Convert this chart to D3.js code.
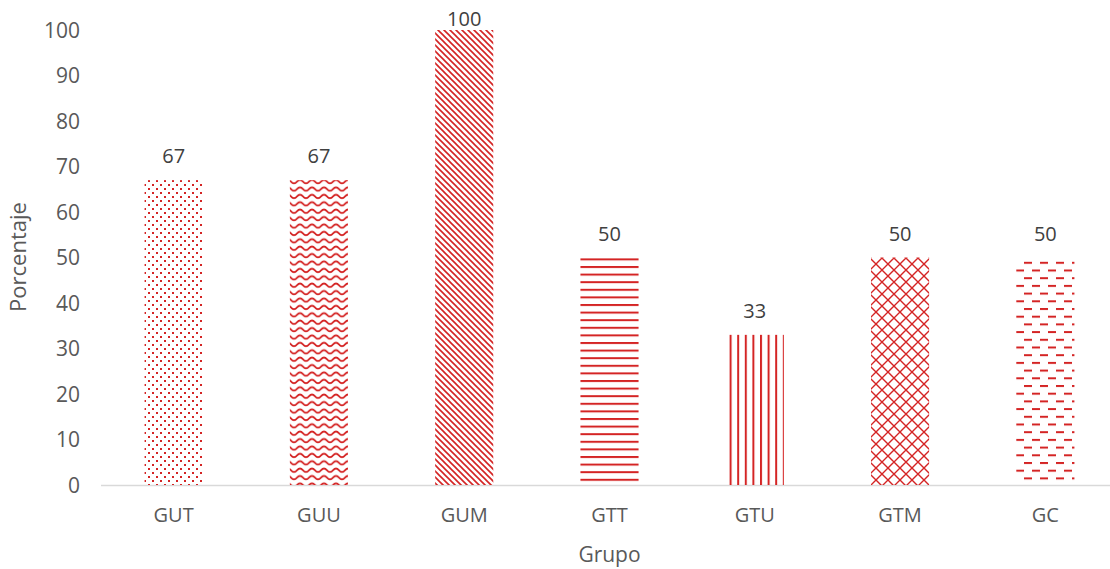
<!DOCTYPE html>
<html><head><meta charset="utf-8">
<script src="https://cdn.jsdelivr.net/npm/d3@7"></script>
<style>body{margin:0;background:#fff}svg{display:block}</style>
</head><body><svg id="c" width="1110" height="569"></svg>
<script>
const categories = ["GUT","GUU","GUM","GTT","GTU","GTM","GC"];
const values = [67, 67, 100, 50, 33, 50, 50];
const patterns = ["dots","waves","diag","hlines","vlines","cross","dashes"];
const yTicks = [0,10,20,30,40,50,60,70,80,90,100];
const xTitle = "Grupo", yTitle = "Porcentaje";

const svg = d3.select("#c");
const red = "#d42424";
const defs = svg.append("defs");
function pat(id, w, h){ return defs.append("pattern").attr("id", id).attr("patternUnits","userSpaceOnUse").attr("width", w).attr("height", h); }
let p = pat("dots", 8, 8);
p.append("rect").attr("x",0).attr("y",0).attr("width",2).attr("height",2).attr("fill",red);
p.append("rect").attr("x",4).attr("y",4).attr("width",2).attr("height",2).attr("fill",red);
p = pat("waves", 12, 7.4);
p.append("path").attr("d","M-3,4 Q0,0.5 3,4 T9,4 T15,4").attr("fill","none").attr("stroke",red).attr("stroke-width",1.8);
p = pat("diag", 6, 6);
p.append("path").attr("d","M-1,-1 L7,7 M-4,2 L1,7 M2,-4 L10,4 M5,-1 L7,1").attr("stroke",red).attr("stroke-width",1.6);
p = pat("hlines", 8, 7.6);
p.append("rect").attr("x",0).attr("y",0).attr("width",8).attr("height",2).attr("fill",red);
p = pat("vlines", 7.6, 8);
p.append("rect").attr("x",0).attr("y",0).attr("width",2).attr("height",8).attr("fill",red);
p = pat("cross", 12, 12);
p.append("path").attr("d","M0,0 L12,12 M12,0 L0,12 M-6,6 L0,0 M6,-6 L0,0").attr("stroke",red).attr("stroke-width",1.4).attr("fill","none");
p = pat("dashes", 16, 15.4);
p.append("rect").attr("x",0).attr("y",0).attr("width",8).attr("height",2).attr("fill",red);
p.append("rect").attr("x",8).attr("y",7.7).attr("width",8).attr("height",2).attr("fill",red);

const x = d3.scaleBand().domain(categories).range([101, 1118]).paddingInner(0.6).paddingOuter(0.3);
const y = d3.scaleLinear().domain([0, 100]).range([485, 30]);

svg.append("line").attr("x1",101).attr("x2",1110).attr("y1",y(0)+0.5).attr("y2",y(0)+0.5).attr("stroke","#d9d9d9").attr("stroke-width",1.3);

svg.selectAll("rect.bar").data(categories).enter().append("rect").attr("class","bar")
  .attr("x", d => x(d)).attr("width", x.bandwidth())
  .attr("y", (d,i) => y(values[i])).attr("height", (d,i) => y(0) - y(values[i]))
  .attr("fill", (d,i) => `url(#${patterns[i]})`);

const font = "'Open Sans', sans-serif";
const yAxis = d3.axisLeft(y).tickValues(yTicks).tickSize(0).tickPadding(0);
const ga = svg.append("g").attr("transform","translate(80,0)").call(yAxis);
ga.select(".domain").remove();
ga.selectAll("text").attr("font-family",font).attr("font-size",21).attr("fill","#595959").attr("dy","0.35em");
const xAxis = d3.axisBottom(x).tickSize(0).tickPadding(0);
const gx = svg.append("g").attr("transform","translate(0,508)").call(xAxis);
gx.select(".domain").remove();
gx.selectAll("text").attr("font-family",font).attr("font-size",20).attr("fill","#595959").attr("dy","0.71em");

svg.selectAll("text.lbl").data(categories).enter().append("text").attr("class","lbl")
  .attr("x", d => x(d) + x.bandwidth()/2).attr("y", (d,i) => Math.max(y(values[i]) - 17, 26))
  .attr("text-anchor","middle").attr("font-family",font).attr("font-size",20).attr("fill","#404040")
  .text((d,i) => values[i]);

svg.append("text").attr("x",609.5).attr("y",562).attr("text-anchor","middle").attr("font-family",font).attr("font-size",21).attr("fill","#595959").text(xTitle);
svg.append("text").attr("transform","translate(26,257) rotate(-90)").attr("text-anchor","middle").attr("font-family",font).attr("font-size",22).attr("fill","#595959").text(yTitle);
</script></body></html>
